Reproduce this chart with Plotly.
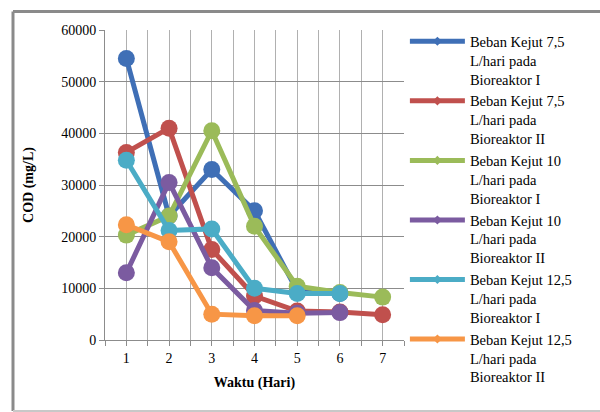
import plotly.graph_objects as go

days = [1, 2, 3, 4, 5, 6, 7]
names = [
    "Beban Kejut 7,5<br>L/hari pada<br>Bioreaktor I",
    "Beban Kejut 7,5<br>L/hari pada<br>Bioreaktor II",
    "Beban Kejut 10<br>L/hari pada<br>Bioreaktor I",
    "Beban Kejut 10<br>L/hari pada<br>Bioreaktor II",
    "Beban Kejut 12,5<br>L/hari pada<br>Bioreaktor I",
    "Beban Kejut 12,5<br>L/hari pada<br>Bioreaktor II",
]
s75_I = [54500, 24000, 33000, 25000, 9500, 9000, None]
s75_II = [36300, 41000, 17500, 8500, 5600, 5400, 4900]
s10_I = [20300, 24000, 40500, 22000, 10400, 9200, 8300]
s10_II = [13000, 30500, 14000, 5700, 5200, 5300, None]
s125_I = [34800, 21200, 21500, 10000, 9000, 9000, None]
s125_II = [22300, 19000, 5000, 4700, 4700, None, None]
series = [s75_I, s75_II, s10_I, s10_II, s125_I, s125_II]
colors = ["#3F6FB6", "#C0504D", "#9BBB59", "#7B5BA0", "#4BACC6", "#F79646"]

y_ticks = [0, 10000, 20000, 30000, 40000, 50000, 60000]
x_grid = [0.5, 1, 1.5, 2, 2.5, 3, 3.5, 4, 4.5, 5, 5.5, 6, 6.5, 7, 7.5]
x_text = ["" if v != int(v) else str(int(v)) for v in x_grid]

font = "Liberation Serif, Times New Roman, serif"

fig = go.Figure()
for vals, c in zip(series, colors):
    fig.add_trace(go.Scatter(
        x=days, y=vals, mode="lines+markers", showlegend=False,
        line=dict(color=c, width=5), marker=dict(color=c, size=17),
        connectgaps=False,
    ))
for i, (name, c) in enumerate(zip(names, colors)):
    fig.add_trace(go.Scatter(
        x=[None], y=[None], mode="lines+markers", name=name, legendgroup=f"g{i}",
        line=dict(color=c, width=5), marker=dict(color=c, size=7, symbol="diamond"),
    ))

fig.update_layout(
    width=600, height=412,
    margin=dict(l=105, r=196, t=30, b=72),
    paper_bgcolor="white", plot_bgcolor="white",
    font=dict(family=font, size=14, color="black"),
    legend=dict(x=1.003, y=1.015, xanchor="left", yanchor="top",
                font=dict(family=font, size=14.5, color="black"),
                itemwidth=55, valign="top", tracegroupgap=0,
                maxheight=400,
                bgcolor="rgba(0,0,0,0)"),
    xaxis=dict(range=[0.5, 7.5], tickvals=x_grid, ticktext=x_text,
               showgrid=True, gridcolor="#B0B0B0", gridwidth=1,
               showline=True, linecolor="#8C8C8C", linewidth=1,
               ticks="outside", ticklen=5, tickcolor="#8C8C8C",
               zeroline=False,
               title=dict(text="<b>Waktu (Hari)</b>", font=dict(family=font, size=14), standoff=12),
               tickfont=dict(family=font, size=14)),
    yaxis=dict(range=[0, 60000], tickvals=y_ticks, tickformat="d",
               showgrid=True, gridcolor="#8C8C8C", gridwidth=1,
               showline=True, linecolor="#8C8C8C", linewidth=1,
               ticks="outside", ticklen=5, tickcolor="#8C8C8C",
               zeroline=False,
               title=dict(text="<b>COD (mg/L)</b>", font=dict(family=font, size=14), standoff=24),
               tickfont=dict(family=font, size=14)),
)
# outer chart border (left, top, bottom edges), in paper coordinates
border = dict(xref="paper", yref="paper", line=dict(color="#8A8A8A", width=3), layer="above")
fig.add_shape(type="line", x0=-0.3077, x1=-0.3077, y0=-0.229, y1=1.06, **border)
fig.add_shape(type="line", x0=-0.3077, x1=1.66, y0=1.06, y1=1.06, **border)
fig.add_shape(type="line", x0=-0.3077, x1=1.66, y0=-0.229, y1=-0.229,
              xref="paper", yref="paper", line=dict(color="#C8C8C8", width=2), layer="above")
fig.write_html("out.html", config={"displayModeBar": False},
               post_script="document.body.style.margin='0';document.body.style.overflow='hidden';")
